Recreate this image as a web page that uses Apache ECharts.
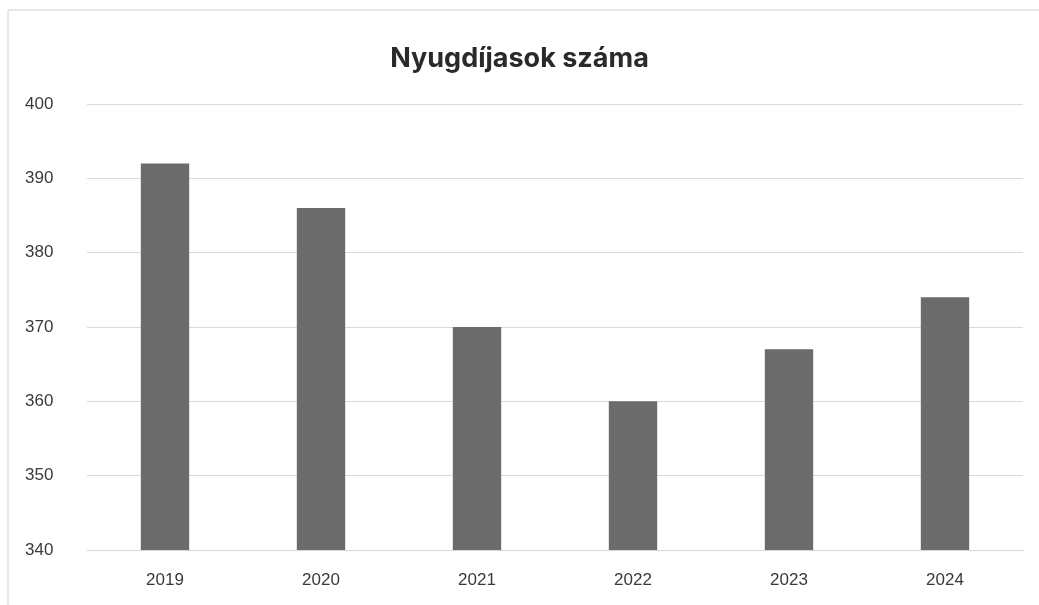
<!DOCTYPE html>
<html>
<head>
<meta charset="utf-8">
<script src="https://cdn.jsdelivr.net/npm/echarts@6/dist/echarts.min.js"></script>
<style>html,body{margin:0;padding:0;background:#fff;}#c{width:1039px;height:605px;}</style>
</head>
<body>
<div id="c"></div>
<script>
var titleText = 'Nyugdíjasok száma';
var categories = ['2019', '2020', '2021', '2022', '2023', '2024'];
var values = [392, 386, 370, 360, 367, 374];
var yTicks = [340, 350, 360, 370, 380, 390, 400];

var chart = echarts.init(document.getElementById('c'));
chart.setOption({
  backgroundColor: '#ffffff',
  animation: false,
  graphic: [{
    type: 'rect', shape: {x: 8, y: 10, width: 1040, height: 600},
    style: {fill: 'none', stroke: '#d0d0d0', lineWidth: 1}
  }],
  title: {
    text: titleText, left: 'center', top: 40,
    textStyle: {fontFamily: 'Inter', fontWeight: 'bold', fontSize: 27, color: '#2a2a2a'}
  },
  grid: {left: 87, right: 16, top: 104, bottom: 55, containLabel: false},
  xAxis: {
    type: 'category', data: categories,
    axisLine: {show: true, lineStyle: {color: '#d6d6d6'}},
    axisTick: {show: false},
    axisLabel: {color: '#3a3a3a', fontSize: 17, fontFamily: 'Liberation Sans', margin: 22}
  },
  yAxis: {
    type: 'value', min: yTicks[0], max: yTicks[yTicks.length - 1], interval: 10,
    axisLine: {show: false}, axisTick: {show: false},
    splitLine: {lineStyle: {color: '#d9d9d9'}},
    axisLabel: {color: '#3a3a3a', fontSize: 17, fontFamily: 'Liberation Sans', margin: 62, align: 'left'}
  },
  series: [{
    type: 'bar', data: values, barWidth: '31%',
    itemStyle: {color: '#6b6b6b'}
  }]
});
</script>
</body>
</html>
